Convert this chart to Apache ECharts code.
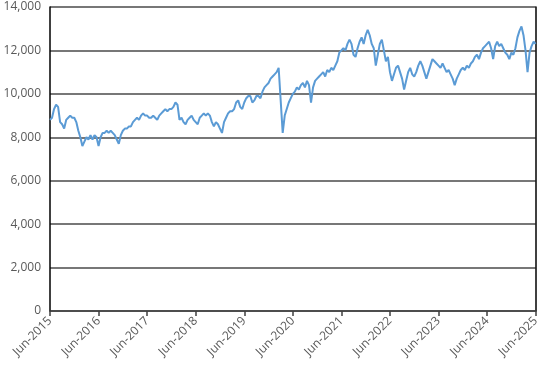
<!DOCTYPE html>
<html>
<head>
<meta charset="utf-8">
<script src="https://cdn.jsdelivr.net/npm/echarts@6/dist/echarts.min.js"></script>
<style>html,body{margin:0;padding:0;background:#fff;}#c{width:542px;height:366px;}</style>
</head>
<body>
<div id="c"></div>
<script>
// Tick labels on the x axis (one per year, June)
const tickLabels = ['Jun-2015','Jun-2016','Jun-2017','Jun-2018','Jun-2019','Jun-2020','Jun-2021','Jun-2022','Jun-2023','Jun-2024','Jun-2025'];
const yTicks = [0, 2000, 4000, 6000, 8000, 10000, 12000, 14000];

// Half-monthly index values, Jun-2015 .. Jun-2025
const v2015 = [8800,8900,9300,9500,9400,8700,8600,8400,8800,8900,9000,8900,8900,8700];
const v2016 = [8300,8000,7600,7800,8000,7900,8100,7900,8100,8000,7600,8000,8200,8200,8300,8200,8300,8200,8100,7900,7700,8100,8300,8400];
const v2017 = [8400,8500,8500,8700,8800,8900,8800,9000,9100,9000,9000,8900,8900,9000,8900,8800,9000,9100,9200,9300,9200,9300,9300,9400];
const v2018 = [9600,9500,8800,8900,8700,8600,8800,8900,9000,8800,8700,8600,8900,9000,9100,9000,9100,9000,8700,8500,8700,8600,8400,8200];
const v2019 = [8700,8900,9100,9200,9200,9300,9600,9700,9400,9300,9600,9800,9900,9900,9600,9700,9900,9900,9800,10100,10300,10400,10500,10700];
const v2020 = [10800,10900,11000,11200,9700,8200,9000,9300,9600,9800,10000,10100,10300,10200,10400,10500,10300,10600,10400,9600,10300,10600,10700,10800];
const v2021 = [10900,11000,10800,11100,11000,11200,11100,11300,11500,11900,12000,12100,12000,12300,12500,12300,11800,11700,12100,12400,12600,12300,12700,12950];
const v2022 = [12700,12300,12100,11300,11800,12300,12500,12000,11500,11700,11000,10600,10900,11200,11300,11000,10700,10200,10600,11000,11200,10900,10800,11000];
const v2023 = [11300,11500,11300,11000,10700,11000,11300,11600,11500,11400,11300,11200,11400,11200,11000,11100,10900,10700,10400,10700,10900,11100,11200,11100];
const v2024 = [11300,11200,11400,11500,11700,11800,11600,11900,12100,12200,12300,12400,12100,11600,12200,12400,12200,12300,12100,11900,11800,11600,11900,11800];
const v2025 = [12100,12600,12900,13100,12700,12000,11000,11900,12200,12400,12300];

const values = [].concat(v2015, v2016, v2017, v2018, v2019, v2020, v2021, v2022, v2023, v2024, v2025);

// Category per half month
const categories = values.map((_, i) => i);

const chart = echarts.init(document.getElementById('c'), null, {renderer: 'canvas'});
const font = '"Open Sans", "Noto Sans", sans-serif';
chart.setOption({
  animation: false,
  backgroundColor: '#ffffff',
  grid: {left: 50, right: 6, top: 7, bottom: 55, containLabel: false},
  xAxis: {
    type: 'category',
    data: categories,
    boundaryGap: false,
    axisLine: {show: true, lineStyle: {color: '#404040', width: 1.5}},
    axisTick: {show: true, interval: 23, length: 5, lineStyle: {color: '#404040', width: 1.5}},
    axisLabel: {
      interval: 23,
      rotate: 45,
      margin: 8,
      color: '#595959',
      fontFamily: font,
      fontSize: 12,
      formatter: (v, idx) => tickLabels[Math.round(idx / 24)] || ''
    },
    splitLine: {show: false}
  },
  yAxis: [{
    type: 'value',
    min: yTicks[0],
    max: yTicks[yTicks.length - 1],
    interval: 2000,
    axisLine: {show: true, lineStyle: {color: '#000000', width: 1.5}},
    axisTick: {show: false},
    axisLabel: {
      color: '#595959',
      fontFamily: font,
      fontSize: 12,
      margin: 9,
      formatter: v => v.toLocaleString('en-US')
    },
    splitLine: {show: true, lineStyle: {color: '#4a4a4a', width: 1.5}}
  }, {
    type: 'value',
    position: 'right',
    min: 0, max: 14000, interval: 2000,
    axisLine: {show: true, lineStyle: {color: '#000000', width: 1.5}},
    axisTick: {show: false},
    axisLabel: {show: false},
    splitLine: {show: false}
  }],
  series: [{
    type: 'line',
    data: values,
    showSymbol: false,
    symbol: 'none',
    lineStyle: {color: '#5B9BD5', width: 2},
    z: 5
  }]
});
</script>
</body>
</html>
